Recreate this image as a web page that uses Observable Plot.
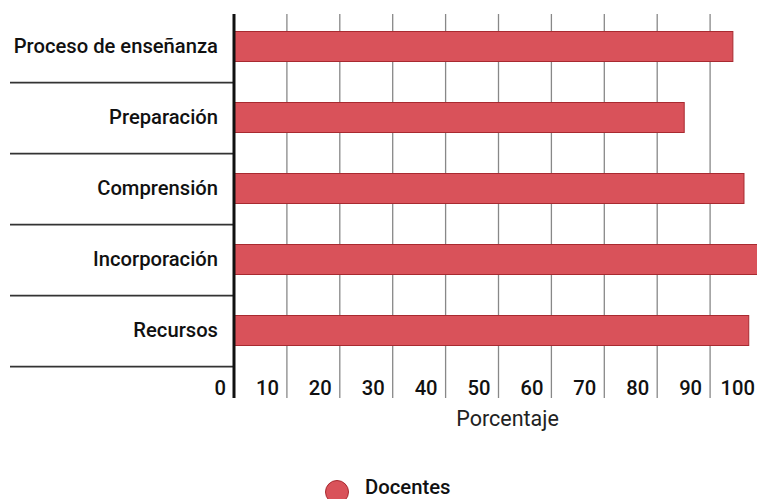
<!DOCTYPE html>
<html>
<head>
<meta charset="utf-8">
<script src="https://cdn.jsdelivr.net/npm/d3@7"></script>
<script src="https://cdn.jsdelivr.net/npm/@observablehq/plot@0.6"></script>
<style>
  html, body { margin: 0; padding: 0; background: #fff; width: 757px; height: 499px; overflow: hidden; }
  #chart svg { display: block; }
  .legend { position: relative; height: 59px; font-family: Roboto, sans-serif; }
  .legend .sw { position: absolute; left: 325px; top: 40px; width: 22px; height: 22px; border-radius: 50%; background: #d9525a; border: 1px solid #a82a30; }
  .legend .lb { position: absolute; left: 365px; top: 36px; font-size: 20.3px; font-weight: 500; color: #111; line-height: 22px; }
</style>
</head>
<body>
<div id="chart"></div>
<script>
const categories = ["Proceso de enseñanza", "Preparación", "Comprensión", "Incorporación", "Recursos"];
const values = [94.4, 85.2, 96.5, 100, 97.4];
const gridTicks = [10, 20, 30, 40, 50, 60, 70, 80, 90];
const tickLabels = [0, 10, 20, 30, 40, 50, 60, 70, 80, 90, 100];
const seriesName = "Docentes";
const xLabel = "Porcentaje";

const data = categories.map((c, i) => ({category: c, value: values[i]}));
const barColor = "#d9525a";
const barStroke = "#a82a30";

const chart = Plot.plot({
  width: 757,
  height: 440,
  marginLeft: 233.5,
  marginRight: -5.5,
  marginTop: 10.5,
  marginBottom: 74,
  style: {fontFamily: "Roboto, sans-serif", fontSize: "20px", color: "#111", overflow: "hidden"},
  x: {domain: [0, 100]},
  y: {domain: categories, padding: 0},
  marks: [
    Plot.ruleX(gridTicks, {stroke: "#888", strokeWidth: 1.3, insetTop: 3.5, insetBottom: -32}),
    Plot.axisY({tickSize: 223.5, tickFormat: null, dy: 35.6, stroke: "#333", strokeWidth: 1.6, label: null}),
    Plot.axisY({tickSize: 0, tickPadding: 16, fontSize: 20.2, fontWeight: 500, label: null}),
    Plot.barX(data, {y: "category", x: "value", fill: barColor, stroke: barStroke, strokeWidth: 1, insetTop: 20.5, insetBottom: 20.5}),
    Plot.ruleX([0], {stroke: "#111", strokeWidth: 3, insetTop: 3.5, insetBottom: -32}),
    Plot.axisX({ticks: tickLabels, tickSize: 0, tickPadding: 14, textAnchor: "end", dx: -8, fontSize: 20.2, fontWeight: 500, label: null}),
    Plot.text([xLabel], {frameAnchor: "bottom", dx: 9, dy: 53, lineAnchor: "middle", fontSize: 21.5, fill: "#222"})
  ]
});
document.getElementById("chart").append(chart);

const legend = document.createElement("div");
legend.className = "legend";
legend.innerHTML = `<span class="sw"></span><span class="lb">${seriesName}</span>`;
document.body.append(legend);
</script>
</body>
</html>
